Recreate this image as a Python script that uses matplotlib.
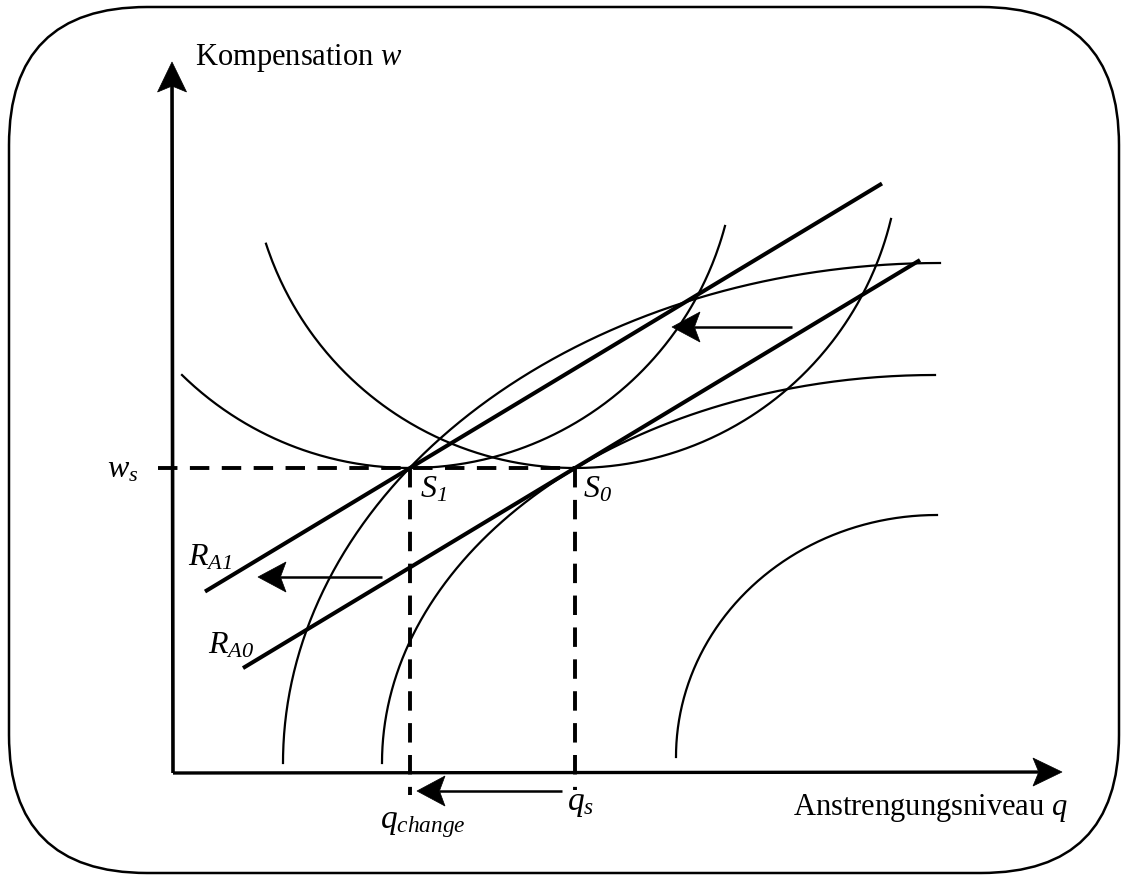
import numpy as np
import matplotlib.pyplot as plt
from matplotlib.patches import FancyBboxPatch

plt.rcParams['font.family'] = ['Liberation Serif', 'DejaVu Serif']
plt.rcParams['mathtext.fontset'] = 'custom'
plt.rcParams['mathtext.rm'] = 'Liberation Serif'
plt.rcParams['mathtext.it'] = 'Liberation Serif:italic'
# \mathsf is used for italic digits (mathtext forces digits upright in \mathit)
plt.rcParams['mathtext.sf'] = 'Liberation Serif:italic'

# diagram units: origin at the axis corner, q to the right, w upward
q_axis_tip = (889, 1)
w_axis_tip = (-1, 711)

w_s = 305
q_1 = 237      # S1 / q_change
q_s = 402      # S0 / q_s

# U-shaped curves (lower arcs of circles tangent to w = w_s)
u_touch = [q_1, q_s]
u_radius = [326, 325]
u_q_range = [(9, 552), (93, 718)]

# concave curves (quarter ellipses): centre q, centre w, half-width, half-height
ell_cq = [767, 762, 764]
ell_cw = [10, 10, 16]
ell_a = [657, 553, 261]
ell_b = [500, 388, 242]

# straight lines R_A1 and R_A0
r_slope = 0.6027
r_through = [(q_1, w_s), (q_s, w_s)]
r_q_range = [(32, 709), (70, 747)]
r_names = [r'$R_{\mathsf{A1}}$', r'$R_{\mathsf{A0}}$']
r_label_pos = [(15, 208), (35, 120)]

# shift arrows (tail, tip)
shift_arrows = [((619, 446), (499, 446)),
                ((209, 196), (85, 196)),
                ((389, -18), (244, -18))]

fig = plt.figure(figsize=(11.21, 8.75), dpi=100)
ax = fig.add_axes([0, 0, 1, 1])
ax.set_xlim(-173, 948)
ax.set_ylim(-102, 773)
ax.axis('off')

# rounded frame
frame = FancyBboxPatch((-164, -100), 1110, 866,
                       boxstyle='round,pad=0,rounding_size=138',
                       fill=False, lw=1.8, ec='black')
ax.add_patch(frame)


def stealth(tail, tip, lw, length=28, half=14.5, notch=0.8):
    tail = np.array(tail, float)
    tip = np.array(tip, float)
    d = tip - tail
    u = d / np.hypot(*d)
    n = np.array([-u[1], u[0]])
    back = tip - u * length
    inner = tip - u * length * notch
    ax.plot([tail[0], inner[0]], [tail[1], inner[1]], color='black',
            lw=lw, solid_capstyle='butt')
    pts = np.array([tip, back + n * half, inner, back - n * half])
    ax.fill(pts[:, 0], pts[:, 1], color='black', lw=0.5)


# axes
stealth((0, 0), w_axis_tip, 2.6, length=30, half=14.5)
stealth((0, 0), q_axis_tip, 2.4, length=29, half=14)

# U curves
for c, r, (qa, qb) in zip(u_touch, u_radius, u_q_range):
    q = np.linspace(qa, qb, 300)
    w = w_s + r - np.sqrt(r ** 2 - (q - c) ** 2)
    ax.plot(q, w, color='black', lw=1.6)

# concave curves
t = np.linspace(np.pi / 2, np.pi, 300)
for cq, cw, a, b in zip(ell_cq, ell_cw, ell_a, ell_b):
    ax.plot(cq + a * np.cos(t), cw + b * np.sin(t), color='black', lw=1.6)

# R lines
for (q0, w0), (qa, qb), name, (lx, ly) in zip(r_through, r_q_range, r_names, r_label_pos):
    q = np.array([qa, qb])
    ax.plot(q, w0 + r_slope * (q - q0), color='black', lw=2.9,
            solid_capstyle='butt')
    ax.text(lx, ly, name, fontsize=23, ha='left', va='baseline')

# dashed guide lines
dash = dict(color='black', lw=2.8, dashes=(5, 3.2), dash_capstyle='butt')
ax.plot([-15, q_s], [w_s, w_s], **dash)
ax.plot([q_1, q_1], [w_s, -22], **dash)
ax.plot([q_s, q_s], [w_s, -17], **dash)

# shift arrows
for tail, tip in shift_arrows:
    stealth(tail, tip, 1.8, length=28, half=15)

# labels
ax.text(22, 708, r'Kompensation $w$', fontsize=22, ha='left', va='baseline')
ax.text(620, -42, r'Anstrengungsniveau $q$', fontsize=22, ha='left', va='baseline')
ax.text(-66, 296, r'$w_s$', fontsize=23, ha='left', va='baseline')
ax.text(247, 276, r'$S_{\mathsf{1}}$', fontsize=23, ha='left', va='baseline')
ax.text(410, 276, r'$S_{\mathsf{0}}$', fontsize=23, ha='left', va='baseline')
ax.text(207, -55, r'$q_{change}$', fontsize=24, ha='left', va='baseline')
ax.text(394, -37, r'$q_s$', fontsize=24, ha='left', va='baseline')

fig.savefig('out.png', dpi=100)
